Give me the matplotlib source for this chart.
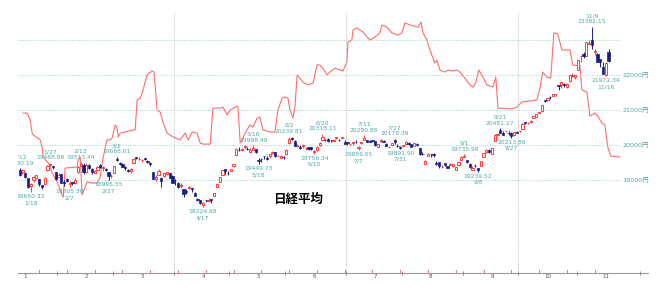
import numpy as np
import pandas as pd
import matplotlib
matplotlib.use("Agg")
import matplotlib.pyplot as plt
from matplotlib.transforms import blended_transform_factory

plt.rcParams['font.family'] = ['DejaVu Sans', 'Noto Sans CJK JP']

# ---------------- data ----------------
holidays = ['2017-03-20', '2017-05-03', '2017-05-04', '2017-05-05', '2017-07-17',
            '2017-08-11', '2017-09-18', '2017-10-09', '2017-11-03']
dates = pd.bdate_range('2017-01-12', '2017-11-17', freq='C', holidays=holidays)

opens = [
    19300, 19238, 19206, 19043, 18824, 19009, 19071, 19029, 18852, 18889, 19286, 19433, 19389, 19228,
    19097, 19163, 18922, 19023, 18883, 18947, 18913, 19222, 19409, 19427, 19231, 19435, 19307, 19213, 19297, 19425, 19353, 19303, 19224, 19105,
    19213, 19608, 19495, 19465, 19374, 19282, 19262, 19486, 19637, 19601, 19563, 19630, 19555, 19487, 19221, 19018, 19150, 19059, 19102, 19180, 19194, 19116,
    18983, 18903, 18836, 18730, 18689, 18759, 18752, 18642, 18445, 18417, 18300, 18435, 18398, 18467, 18549, 18807, 18956, 19133, 19302, 19210,
    19263, 19388, 19720, 19870, 19848, 19948, 19889, 19792, 19869, 19888, 19577, 19608, 19682, 19640, 19699, 19772, 19792, 19681, 19641, 19652,
    19736, 20065, 20188, 20120, 19963, 19957, 19958, 19906, 19930, 19934, 19811, 19867, 19988, 20149, 20156, 20175, 20140, 20109, 20191, 20155, 20200, 20077,
    20082, 20024, 20062, 20085, 19924, 20058, 20147, 20137, 20115, 20148, 20111, 19946, 20101, 20128, 20025, 19940, 20003, 20146, 19981, 19928,
    19978, 20024, 20047, 20016, 19982, 20038, 19917, 19743, 19467, 19698, 19746, 19749, 19490, 19501, 19366, 19477, 19402, 19439, 19413, 19294, 19417, 19560,
    19668, 19563, 19467, 19277, 19399, 19344, 19410, 19664, 19808, 19868, 19755, 20127, 20299, 20427, 20351, 20386, 20344, 20347, 20275, 20385,
    20393, 20470, 20643, 20627, 20651, 20776, 20803, 20918, 20980, 21273, 21277, 21368, 21388, 21443, 21703, 21706, 21729, 21661, 21829, 21958, 21949,
    22154, 22529, 22603, 22552, 22899, 22988, 22657, 22596, 22451, 22228, 22010, 22671,
]
highs = [
    19330.19, 19303, 19218, 19043, 18926, 19102, 19145, 19029, 18870, 19087, 19415, 19488.88, 19404, 19235,
    19195, 19176, 18998, 19058, 18978, 18950, 19043, 19402, 19513.44, 19474, 19481, 19461, 19334, 19273, 19396, 19449, 19393, 19337, 19224, 19160,
    19404, 19668.01, 19524, 19481, 19400, 19301, 19346, 19615, 19656, 19650, 19601, 19640, 19572, 19508, 19221, 19144, 19306, 19083, 19236, 19240, 19207, 19143,
    19034, 18953, 18925, 18730, 18732, 18817, 18775, 18655, 18494, 18424, 18377, 18440, 18494, 18467, 18628, 18878, 19091, 19289, 19311, 19267,
    19317, 19464, 19904, 19929, 19906, 19986, 19942, 19912, 19998.49, 19890, 19622, 19627, 19693, 19686, 19744, 19832, 19805, 19726, 19721, 19684,
    19872, 20239.81, 20230, 20131, 20021, 20000, 20035, 19921, 19937, 19946, 19848, 19963, 20081, 20318.11, 20175, 20195, 20151, 20162, 20233, 20160, 20234, 20133,
    20087, 20055, 20092, 20134, 19961, 20090, 20280.88, 20141, 20136, 20153, 20111, 20033, 20174, 20131, 20043, 19980, 20064, 20178.39, 20029, 19985,
    20001, 20107, 20083, 20040, 20063, 20059, 19917, 19788, 19560, 19763, 19756, 19783, 19529, 19505, 19423, 19478, 19403, 19487, 19459, 19380, 19524, 19686,
    19735.98, 19563, 19486, 19390, 19448, 19344, 19545, 19783, 19877, 19872, 19917, 20306, 20319, 20481.27, 20398, 20401, 20389, 20366, 20363, 20397,
    20426, 20627, 20646, 20656, 20707, 20831, 20881, 20955, 21155, 21273, 21336, 21386, 21454, 21457, 21703, 21805, 21766, 21760, 22011, 22055, 22012,
    22435, 22539, 22648, 22937, 23000, 23382.15, 22749, 22619, 22454, 22382, 22368, 22757,
]
lows = [
    19111, 19175, 19059, 18782, 18650.33, 18954, 19041, 18832, 18755, 18884, 19264, 19408, 19306, 18997,
    19084, 18903, 18830, 18957, 18805.30, 18860, 18873, 19192, 19406, 19181, 19201, 19323, 19181, 19205, 19276, 19355, 19270, 19263, 18995.55, 19046,
    19199, 19537, 19422, 19360, 19289, 19224, 19211, 19486, 19597, 19566, 19526, 19582, 19489, 19402, 19041, 18966, 19137, 18812, 19095, 19146, 19049, 18909,
    18855, 18783, 18767, 18517, 18613, 18755, 18661, 18537, 18389, 18306, 18224.68, 18366, 18394, 18351, 18534, 18807, 18948, 19133, 19176, 19149,
    19252, 19382, 19717, 19818, 19825, 19890, 19846, 19782, 19845, 19783, 19449.73, 19526, 19608, 19568, 19639, 19754, 19644, 19672, 19641, 19594,
    19722, 20028, 20148, 19966, 19947, 19891, 19926, 19852, 19860, 19869, 19756.34, 19824, 19984, 20146, 20101, 20083, 20075, 20101, 20163, 20116, 20186, 20020,
    19999, 20014, 20010, 20063, 19856.65, 20037, 20143, 20073, 20072, 20094, 19963, 19946, 20075, 20083, 19962, 19907, 19982, 20028, 19944, 19891.90,
    19957, 20013, 20012, 19934, 19974, 19976, 19721, 19705, 19463, 19682, 19670, 19659, 19423, 19352, 19333, 19406, 19337, 19423, 19376, 19280, 19405, 19559,
    19656, 19491, 19352, 19276, 19372, 19239.52, 19406, 19661, 19780, 19783, 19740, 20127, 20264, 20338, 20294, 20358, 20293, 20213.86, 20271, 20349,
    20373, 20454, 20591, 20609, 20629, 20767, 20797, 20902, 20971, 21215, 21244, 21327, 21390, 21402, 21567, 21640, 21644, 21639, 21788, 21952, 21877,
    22154, 22385, 22478, 22552, 22884, 22750, 22562, 22379, 22242, 22028, 21972.34, 22385,
]
closes = [
    19134, 19287, 19095, 18813, 18894, 19072, 19137, 18891, 18787, 19057, 19402, 19467, 19368, 19041,
    19148, 18914, 18918, 18976, 18910, 18907, 19007, 19378, 19459, 19238, 19437, 19347, 19234, 19251, 19381, 19379, 19371, 19283, 19107, 19118,
    19393, 19564, 19469, 19379, 19344, 19254, 19318, 19604, 19633, 19609, 19577, 19590, 19521, 19455, 19041, 19085, 19262, 18985, 19202, 19217, 19063, 18909,
    18960, 18810, 18861, 18597, 18664, 18797, 18747, 18552, 18426, 18335, 18355, 18418, 18432, 18430, 18620, 18875, 19079, 19289, 19251, 19196,
    19310, 19445, 19895, 19843, 19900, 19961, 19883, 19869, 19919, 19814, 19553, 19590, 19678, 19613, 19742, 19813, 19686, 19682, 19677, 19650,
    19860, 20177, 20170, 19979, 19984, 19909, 20013, 19908, 19898, 19883, 19831, 19943, 20067, 20230, 20138, 20110, 20132, 20153, 20225, 20130, 20220, 20033,
    20055, 20032, 20081, 20081, 19929, 20080, 20195, 20098, 20099, 20118, 19999, 20020, 20144, 20099, 19975, 19955, 20050, 20079, 19959, 19925,
    19985, 20080, 20029, 19952, 20055, 19996, 19738, 19729, 19537, 19753, 19729, 19702, 19470, 19393, 19383, 19434, 19353, 19452, 19449, 19362, 19506, 19646,
    19691, 19508, 19385, 19357, 19396, 19274, 19545, 19776, 19865, 19807, 19909, 20299, 20310, 20347, 20296, 20397, 20330, 20267, 20363, 20356,
    20400, 20614, 20626, 20628, 20690, 20823, 20881, 20954, 21155, 21255, 21336, 21363, 21448, 21457, 21696, 21805, 21707, 21739, 22008, 22011, 22011,
    22420, 22539, 22548, 22937, 22913, 22868, 22681, 22380, 22380, 22028, 22351, 22396,
]

# labelled highs / lows
high_dates = ['2017-01-12', '2017-01-27', '2017-02-13', '2017-03-02', '2017-05-16', '2017-06-02',
              '2017-06-20', '2017-07-11', '2017-07-27', '2017-09-01', '2017-09-21', '2017-11-09']
low_dates = ['2017-01-18', '2017-02-07', '2017-02-27', '2017-04-17', '2017-05-18', '2017-06-15',
             '2017-07-07', '2017-07-31', '2017-09-08', '2017-09-27', '2017-11-16']

# red indicator line (trading-day position, value on its own 0-100 scale)
red_pos = [1.3, 2.7, 3.8, 4.5, 4.9, 7.4, 8.1, 8.5, 10.3, 11.0, 11.7, 13.5, 15.3, 15.7, 16.4, 20.7, 21.1, 21.8,
           22.5, 24.3, 26.1, 27.9, 29.0, 30.1, 31.5, 32.6, 33.3, 34.4, 35.1, 35.5, 36.2, 38.0, 40.9, 41.6,
           42.3, 43.4, 44.1, 45.9, 47.7, 48.4, 49.5, 50.6, 51.7, 53.1, 55.3, 57.8, 59.6, 60.7, 62.1, 63.9,
           65.0, 66.0, 68.6, 69.6, 72.2, 73.2, 74.7, 75.8, 78.3, 78.6, 79.4, 80.1, 81.2, 82.9, 84.0, 85.5,
           86.5, 87.6, 90.2, 91.9, 93.0, 94.5, 95.5, 96.6, 97.3, 98.4, 99.1, 99.9, 100.9, 102.0, 103.8,
           105.6, 107.1, 108.1, 109.2, 110.7, 111.7, 113.5, 115.3, 116.4, 117.8, 118.2, 119.6, 120.0, 121.4,
           123.6, 126.1, 127.9, 129.7, 130.4, 132.2, 134.0, 136.2, 137.6, 138.7, 140.5, 143.4, 144.5, 145.2,
           146.6, 147.7, 149.5, 150.2, 151.3, 153.1, 154.2, 156.0, 157.4, 158.5, 160.3, 162.1, 163.2, 164.2,
           165.3, 166.8, 168.2, 170.4, 171.4, 172.2, 177.2, 179.0, 180.8, 186.2, 187.3, 188.3, 189.8, 191.2,
           192.3, 193.7, 195.2, 198.1, 199.1, 201.7, 202.4, 204.2, 205.3, 207.1, 208.1, 209.6, 210.7, 211.7,
           212.8, 216.1]
red_val = [60.8, 60.8, 58.2, 53.2, 52.5, 50.6, 47.9, 44.1, 41.8, 40.3, 38.0, 34.6, 29.7, 28.9, 39.9, 40.3, 43.0, 44.1,
           29.7, 34.6, 34.2, 34.2, 36.5, 44.1, 50.6, 50.6, 51.3, 56.3, 55.1, 51.7, 53.2, 53.6, 54.4, 54.4,
           65.8, 66.5, 68.4, 75.3, 76.8, 76.4, 62.0, 61.2, 57.0, 53.2, 51.7, 50.6, 53.2, 50.6, 53.6, 53.2,
           49.4, 49.0, 49.0, 62.7, 62.7, 63.1, 60.1, 62.0, 63.5, 63.1, 49.4, 50.6, 53.2, 56.3, 55.5, 58.9,
           59.3, 54.4, 53.6, 53.6, 62.0, 66.5, 66.9, 66.5, 62.0, 58.9, 63.1, 75.3, 74.1, 72.6, 71.5,
           72.2, 79.1, 79.1, 77.9, 75.3, 76.4, 77.9, 77.2, 76.8, 80.2, 87.8, 88.6, 92.4, 93.2,
           91.6, 88.6, 89.7, 91.3, 94.3, 93.5, 91.3, 90.5, 91.3, 95.1, 94.3, 93.5, 95.4, 91.3,
           88.6, 84.8, 79.8, 81.0, 77.2, 76.4, 77.2, 76.8, 77.2, 76.4, 74.1, 71.5, 70.7, 72.2,
           77.2, 74.5, 71.5, 70.7, 74.5, 62.7, 62.4, 63.1, 65.0, 65.8, 70.3, 76.4, 74.5, 74.1,
           91.3, 90.9, 84.8, 84.8, 79.1, 78.7, 69.6, 68.8, 59.7, 60.8, 59.7, 57.0, 56.3, 47.9,
           44.5, 44.1]

price_levels = [19000, 20000, 21000, 22000, 23000]
price_labels = ['19000円', '20000円', '21000円', '22000円', '']
quarter_starts = ['2017-04-01', '2017-07-01', '2017-10-01']
title = '日経平均'

# ---------------- drawing ----------------
UP = '#ff3b3b'
DOWN = '#1b1b86'
TEAL = '#4fa8a8'

fig = plt.figure(figsize=(6.69, 2.86), dpi=100)
ax = fig.add_axes([18 / 669, 13 / 286, 630 / 669, 263 / 286])
ax.set_xlim(-0.58, 226.2)
ax.set_ylim(16342.86, 23857.14)

n = len(dates)
idx = np.arange(n)
o = np.array(opens, float)
h = np.array(highs, float)
l = np.array(lows, float)
c = np.array(closes, float)
up = c >= o

# red indicator on its own scale
ax2 = ax.twinx()
ax2.set_ylim(0, 100)
ax2.axis('off')
ax2.plot(red_pos, red_val, color='#ff6464', lw=0.8, alpha=0.95, zorder=1)
ax.set_zorder(ax2.get_zorder() + 1)
ax.patch.set_visible(False)

# gridlines
grid_end = red_pos[-1]
ax.hlines(price_levels, -0.58, grid_end, colors='#9fd3d3', linestyles=(0, (1, 1.5)), lw=0.7, zorder=0)
ytr = blended_transform_factory(ax.transAxes, ax.transData)
for lv, lb in zip(price_levels, price_labels):
    if lb:
        ax.text(0.9595, lv, lb, transform=ytr, ha='left', va='center', fontsize=4.6, color=TEAL)

# quarter separators
month_first = {}
for i, d in enumerate(dates):
    key = (d.year, d.month)
    if key not in month_first:
        month_first[key] = i
for q in quarter_starts:
    qd = pd.Timestamp(q)
    ax.axvline(month_first[(qd.year, qd.month)] - 0.5, color='#bbbbbb', lw=0.7,
               linestyle=(0, (1, 1.2)), ymax=0.99, zorder=0)

# candles
wick_col = np.where(up, UP, DOWN)
ax.vlines(idx, l, h, colors=wick_col, lw=0.7, zorder=3)
body_h = np.maximum(np.abs(c - o), 12)
body_b = np.minimum(o, c)
ax.bar(idx[up], body_h[up], bottom=body_b[up], width=0.8, facecolor='white',
       edgecolor=UP, linewidth=0.7, zorder=4)
ax.bar(idx[~up], body_h[~up], bottom=body_b[~up], width=0.8, facecolor=DOWN,
       edgecolor=DOWN, linewidth=0.5, zorder=4)

# high / low annotations
pos_of = {d.strftime('%Y-%m-%d'): i for i, d in enumerate(dates)}
for ds in high_dates:
    i = pos_of[ds]
    d = dates[i]
    ax.annotate(f'{h[i]:.2f}', xy=(i, h[i]), xytext=(0, 3.6), textcoords='offset points',
                ha='center', va='center', fontsize=4.3, color=TEAL, zorder=6, clip_on=True)
    ax.annotate(f'{d.month}/{d.day}', xy=(i, h[i]), xytext=(0, 8.0), textcoords='offset points',
                ha='center', va='center', fontsize=4.3, color=TEAL, zorder=6, clip_on=True)
for ds in low_dates:
    i = pos_of[ds]
    d = dates[i]
    ax.annotate(f'{l[i]:.2f}', xy=(i, l[i]), xytext=(0, -3.3), textcoords='offset points',
                ha='center', va='center', fontsize=4.3, color=TEAL, zorder=6, clip_on=True)
    ax.annotate(f'{d.month}/{d.day}', xy=(i, l[i]), xytext=(0, -7.7), textcoords='offset points',
                ha='center', va='center', fontsize=4.3, color=TEAL, zorder=6, clip_on=True)

# x axis: month boundary ticks and month labels
for s in ['top', 'left', 'right']:
    ax.spines[s].set_visible(False)
ax.spines['bottom'].set_color('#999999')
ax.spines['bottom'].set_linewidth(0.8)
ax.set_yticks([])
bounds = [v - 0.5 for k, v in sorted(month_first.items())][1:] + [223.5]
ax.set_xticks(bounds)
ax.set_xticklabels([])
ax.tick_params(axis='x', which='major', length=3, width=0.7, color='#888888', direction='inout')

lab_pos, lab_txt = [], []
for (yy, mm), fi in sorted(month_first.items()):
    first_wd = np.busday_offset(f'{yy}-{mm:02d}-01', 0, roll='forward')
    target = np.busday_offset(first_wd, 10)
    first_td = np.datetime64(dates[fi].date())
    lab_pos.append(fi + int(np.busday_count(first_wd, target)) - int(np.busday_count(first_wd, first_td)))
    lab_txt.append(str(mm))
ax.set_xticks(lab_pos, minor=True)
ax.set_xticklabels(lab_txt, minor=True)
ax.tick_params(axis='x', which='minor', length=0, labelsize=4, labelcolor='#555555', pad=1)

# small red marks every ten sessions along the time axis
for p in idx[7::10]:
    ax.plot([p, p], [0, 0.012], transform=blended_transform_factory(ax.transData, ax.transAxes),
            color='#ff7070', lw=0.7, clip_on=False, zorder=2)

fig.text(298 / 669, 1 - 199 / 286, title, ha='center', va='center', fontsize=9,
         fontweight='bold', family=['Noto Sans CJK JP'])

fig.savefig('out.png', dpi=100)
